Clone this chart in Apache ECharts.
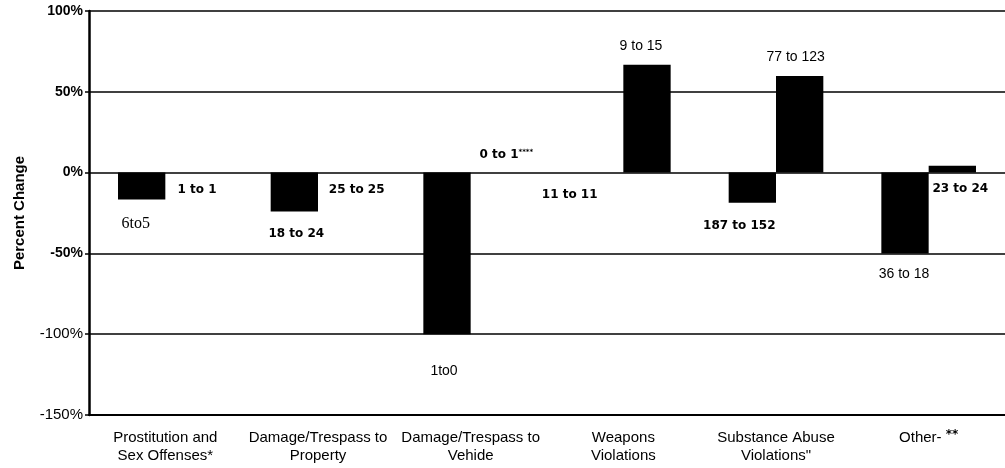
<!DOCTYPE html>
<html>
<head>
<meta charset="utf-8">
<script src="https://cdn.jsdelivr.net/npm/echarts@6/dist/echarts.min.js"></script>
<style>
  html, body { margin: 0; padding: 0; background: #fff; }
  #main { width: 1005px; height: 468px; }
</style>
</head>
<body>
<div id="main"></div>
<script>
// 图表数据
const categories = ['Prostitution and\nSex Offenses*', 'Damage/Trespass to\nProperty', 'Damage/Trespass to\nVehide', 'Weapons\nViolations', 'Substance Abuse\nViolations"', 'Other- {b|**}']
const firstValues = [-16.7, -24, -100, 0, -18.7, -50]
const secondValues = [0, 0, 0, 66.7, 59.7, 4.3]
const firstLabels = ['6to5', '18 to 24', '1to0', '11 to 11', '187 to 152', '36 to 18']
const secondLabels = ['1 to 1', '25 to 25', '0 to 1{s|****}', '9 to 15', '77 to 123', '23 to 24']
const yMin = -150
const yMax = 100
const yStep = 50

// 标签样式
const serif = { fontFamily: 'Liberation Serif', fontSize: 16, fontWeight: 'normal' }
const bold = { fontFamily: 'DejaVu Sans', fontSize: 12, fontWeight: 'bold' }
const plain = { fontFamily: 'Liberation Sans', fontSize: 14, fontWeight: 'normal' }
const firstLook = [
  [serif, 'bottom', [-6, 16]],
  [bold, 'bottom', [2, 16]],
  [plain, 'bottom', [-3, 30]],
  [bold, 'bottom', [-30, 16]],
  [bold, 'bottom', [-13, 17]],
  [plain, 'bottom', [-1, 14]]
]
const secondLook = [
  [bold, 'bottom', [8, 11]],
  [bold, 'bottom', [15, 11]],
  [bold, 'top', [12, -11]],
  [plain, 'top', [-6, -12]],
  [plain, 'top', [-4, -12]],
  [bold, 'bottom', [8, 10]]
]

function buildData(values, labels, looks) {
  return values.map((v, i) => {
    const [font, pos, off] = looks[i]
    return {
      value: v,
      label: Object.assign({
        show: true,
        position: pos,
        distance: 0,
        offset: off,
        color: '#000',
        formatter: labels[i],
        rich: { s: { fontSize: 7, fontWeight: 'bold', verticalAlign: 'top', padding: [0, 0, 6, 0] } }
      }, font)
    }
  })
}

const myChart = echarts.init(document.getElementById('main'))
const option = {
  backgroundColor: '#fff',
  animation: false,
  grid: { left: 89, right: 0, top: 11, bottom: 53 },
  xAxis: {
    type: 'category',
    data: categories,
    axisLine: { onZero: false, lineStyle: { color: '#000', width: 2 } },
    axisTick: { show: false },
    axisLabel: {
      color: '#000',
      fontFamily: 'Liberation Sans',
      fontSize: 15,
      lineHeight: 18,
      margin: 14,
      interval: 0,
      rich: { b: { fontWeight: 'bold', fontSize: 12, fontFamily: 'DejaVu Sans', verticalAlign: 'top' } }
    }
  },
  yAxis: {
    type: 'value',
    min: yMin,
    max: yMax,
    interval: yStep,
    name: 'Percent Change',
    nameLocation: 'middle',
    nameGap: 62,
    nameRotate: 90,
    nameTextStyle: { color: '#000', fontFamily: 'Liberation Sans', fontSize: 15, fontWeight: 'bold' },
    axisLine: { show: true, lineStyle: { color: '#000', width: 2.5 } },
    axisTick: { show: true, length: 4, lineStyle: { color: '#000', width: 1.5 } },
    splitLine: { show: true, lineStyle: { color: '#000', width: 1.5 } },
    axisLabel: {
      color: '#000',
      margin: 6,
      formatter: v => (v >= -50 ? '{b|' + v + '%}' : '{r|' + v + '%}'),
      rich: {
        b: { fontFamily: 'Liberation Sans', fontSize: 14, fontWeight: 'bold', color: '#000' },
        r: { fontFamily: 'Liberation Sans', fontSize: 15, color: '#000' }
      }
    }
  },
  series: [
    {
      type: 'bar',
      data: buildData(firstValues, firstLabels, firstLook),
      barWidth: '31%',
      barGap: '0%',
      itemStyle: { color: '#000' }
    },
    {
      type: 'bar',
      data: buildData(secondValues, secondLabels, secondLook),
      barWidth: '31%',
      barGap: '0%',
      itemStyle: { color: '#000' }
    }
  ]
}
myChart.setOption(option)
</script>
</body>
</html>
